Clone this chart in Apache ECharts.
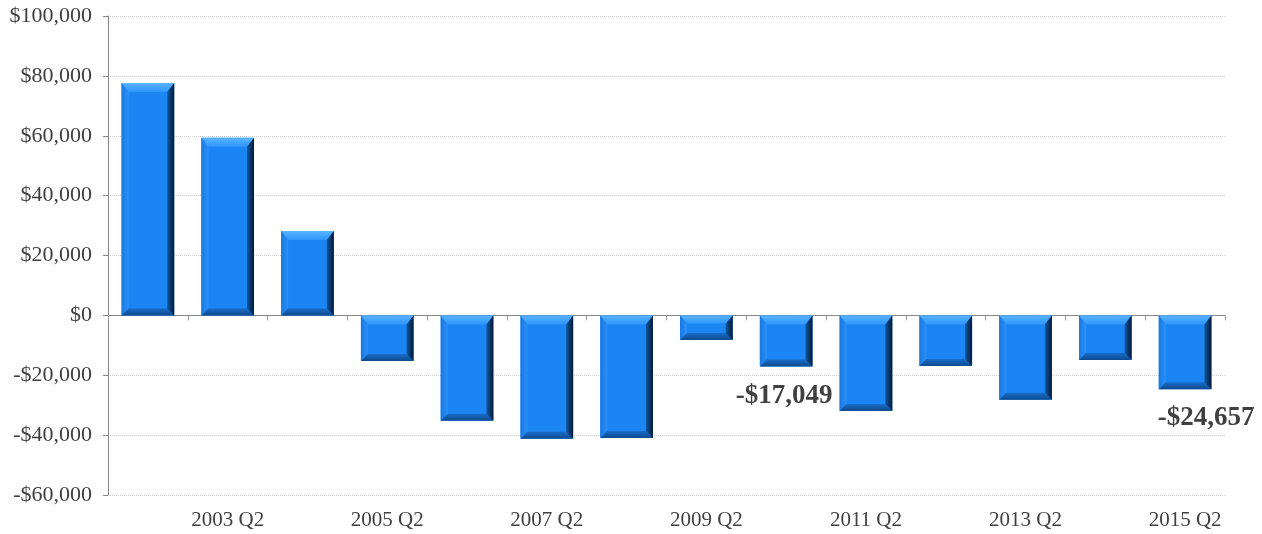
<!DOCTYPE html>
<html>
<head>
<meta charset="utf-8">
<script src="https://cdn.jsdelivr.net/npm/echarts@6/dist/echarts.min.js"></script>
<style>
  html, body { margin: 0; padding: 0; background: #fff; }
  #chart { width: 1262px; height: 534px; }
</style>
</head>
<body>
<div id="chart"></div>
<script>
  // quarters along the x axis
  const categories = ['2002 Q2', '2003 Q2', '2004 Q2', '2005 Q2', '2006 Q2', '2007 Q2', '2008 Q2',
    '2009 Q2', '2010 Q2', '2011 Q2', '2012 Q2', '2013 Q2', '2014 Q2', '2015 Q2'];
  const values = [77600, 59300, 28200, -15200, -35200, -41200, -41000,
    -8200, -17049, -31900, -16900, -28200, -14900, -24657];
  // only these bars carry a value label
  const labelledIdx = [8, 13];
  const yTicks = { min: -60000, max: 100000, interval: 20000 };

  const BAR_RATIO = 0.66;
  const fmt = v => (v < 0 ? '-$' : '$') + Math.abs(v).toLocaleString('en-US');

  // invisible bars, only used to place the two value labels
  const labelData = values.map((v, i) => {
    const item = { value: v };
    if (labelledIdx.includes(i)) {
      item.label = {
        show: true,
        position: 'bottom',
        distance: i === 13 ? 15 : 16,
        offset: i === 13 ? [21, 0] : [-2, 0],
        formatter: p => fmt(p.value),
        fontFamily: 'Liberation Serif',
        fontWeight: 'bold',
        fontSize: 27,
        color: '#404040'
      };
    }
    return item;
  });

  // bevelled bar drawn from the axis scale
  function renderBevel(params, api) {
    const idx = api.value(0);
    const p1 = api.coord([idx, api.value(1)]);
    const p0 = api.coord([idx, 0]);
    const w = api.size([1, 0])[0] * BAR_RATIO;
    const xL = p1[0] - w / 2, xR = p1[0] + w / 2;
    const yT = Math.min(p0[1], p1[1]), yB = Math.max(p0[1], p1[1]);
    const h = yB - yT;
    const bt = Math.min(9, h / 3), bb = Math.min(7, h / 3), bs = 7;
    const poly = (pts, fill) => ({ type: 'polygon', shape: { points: pts }, style: { fill: fill } });
    return {
      type: 'group',
      children: [
        { type: 'rect', shape: { x: xL, y: yT, width: w, height: h }, style: { fill: '#1b85f4' } },
        poly([[xL, yT], [xR, yT], [xR - bs, yT + bt], [xL + bs, yT + bt]], {
          type: 'linear', x: 0, y: 0, x2: 0, y2: 1,
          colorStops: [{ offset: 0, color: '#5ab4ff' }, { offset: 1, color: '#2e96fa' }]
        }),
        poly([[xL, yT], [xL + bs, yT + bt], [xL + bs, yB - bb], [xL, yB]], {
          type: 'linear', x: 0, y: 0, x2: 1, y2: 0,
          colorStops: [{ offset: 0, color: '#1a78e0' }, { offset: 1, color: '#2a90f8' }]
        }),
        poly([[xL, yB], [xR, yB], [xR - bs, yB - bb], [xL + bs, yB - bb]], {
          type: 'linear', x: 0, y: 0, x2: 0, y2: 1,
          colorStops: [{ offset: 0, color: '#1a6cc8' }, { offset: 1, color: '#0d4a90' }]
        }),
        poly([[xR, yT], [xR - bs, yT + bt], [xR - bs, yB - bb], [xR, yB]], {
          type: 'linear', x: 0, y: 0, x2: 1, y2: 0,
          colorStops: [{ offset: 0, color: '#10589e' }, { offset: 1, color: '#03183a' }]
        })
      ]
    };
  }

  const chart = echarts.init(document.getElementById('chart'));
  chart.setOption({
    animation: false,
    backgroundColor: '#fff',
    grid: { left: 108, right: 37, top: 16, bottom: 39, containLabel: false },
    xAxis: [
      {
        type: 'category',
        data: categories,
        position: 'bottom',
        axisLine: { show: false, onZero: false },
        axisTick: { show: false },
        axisLabel: {
          interval: (idx) => idx % 2 === 1,
          margin: 15,
          fontFamily: 'Liberation Serif',
          fontSize: 21,
          color: '#404040'
        }
      },
      {
        type: 'category',
        data: categories,
        position: 'bottom',
        axisLine: { show: true, onZero: true, lineStyle: { color: '#888', width: 1 } },
        axisTick: { show: true, length: 5, lineStyle: { color: '#999' } },
        axisLabel: { show: false }
      }
    ],
    yAxis: {
      type: 'value',
      min: yTicks.min,
      max: yTicks.max,
      interval: yTicks.interval,
      axisLine: { show: true, lineStyle: { color: '#888' } },
      axisTick: { show: true, length: 5, lineStyle: { color: '#888' } },
      axisLabel: {
        formatter: fmt,
        fontFamily: 'Liberation Serif',
        fontSize: 22,
        color: '#404040',
        margin: 16
      },
      splitLine: { show: true, lineStyle: { color: '#d0d0d0', type: 'dotted' } }
    },
    series: [
      {
        type: 'bar',
        xAxisIndex: 0,
        data: labelData,
        barWidth: (BAR_RATIO * 100) + '%',
        itemStyle: { color: 'rgba(0,0,0,0)' }
      },
      {
        type: 'custom',
        xAxisIndex: 0,
        renderItem: renderBevel,
        data: values.map((v, i) => [i, v]),
        z: 3
      }
    ]
  });
</script>
</body>
</html>
